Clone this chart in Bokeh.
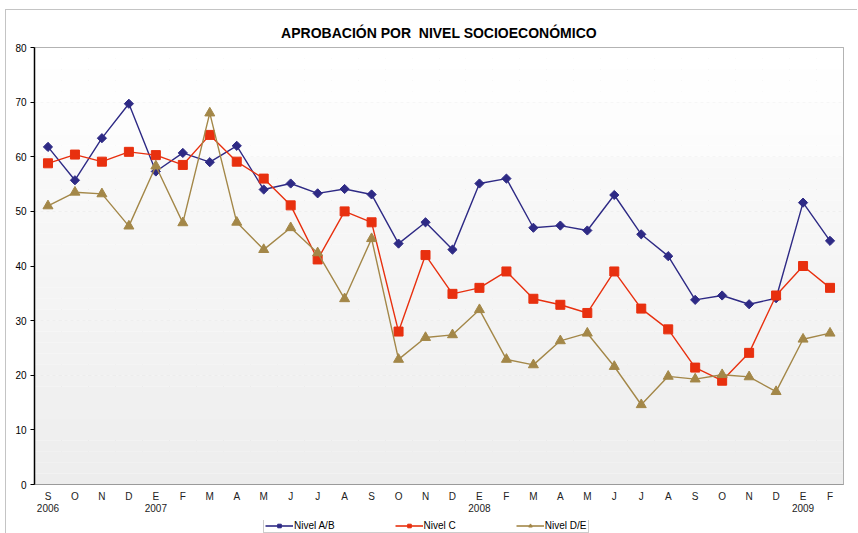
import math
from bokeh.plotting import figure
from bokeh.layouts import column
from bokeh.models import Range1d, FixedTicker, BoxAnnotation, Legend, LegendItem
from bokeh.embed import file_html
from bokeh.resources import INLINE

months = ["S", "O", "N", "D", "E", "F", "M", "A", "M", "J", "J", "A", "S", "O", "N",
          "D", "E", "F", "M", "A", "M", "J", "J", "A", "S", "O", "N", "D", "E", "F"]
years = {0: "2006", 4: "2007", 16: "2008", 28: "2009"}

nivel_ab = [61.8, 55.7, 63.4, 69.7, 57.3, 60.7, 59.0, 62.0, 54.0, 55.1, 53.3, 54.1, 53.1, 44.1, 48.0,
            43.0, 55.1, 56.0, 47.0, 47.4, 46.5, 53.0, 45.8, 41.8, 33.8, 34.6, 33.0, 34.1, 51.6, 44.6]
nivel_c = [58.8, 60.4, 59.1, 60.9, 60.3, 58.5, 64.0, 59.1, 56.0, 51.1, 41.2, 50.0, 48.0, 28.0, 42.0,
           34.9, 36.0, 39.0, 34.0, 32.9, 31.4, 39.0, 32.2, 28.4, 21.4, 19.0, 24.1, 34.6, 40.0, 36.0]
nivel_de = [51.0, 53.5, 53.2, 47.3, 58.3, 47.9, 68.0, 48.0, 43.0, 47.0, 42.4, 34.0, 45.0, 22.9, 26.9,
            27.4, 32.0, 22.9, 21.9, 26.3, 27.7, 21.6, 14.6, 19.8, 19.3, 20.1, 19.7, 17.0, 26.6, 27.7]

# name, values, colour, marker, size, angle
series = [
    ("Nivel A/B", nivel_ab, "#2e2a85", "square", 6.5, math.pi / 4),
    ("Nivel C", nivel_c, "#e8300f", "square", 9, 0.0),
    ("Nivel D/E", nivel_de, "#a38748", "triangle", 10, 0.0),
]

FONT = "Liberation Sans"
n = len(months)
xs = list(range(n))

p = figure(width=851, height=510, output_backend="svg", toolbar_location=None,
           x_range=Range1d(-0.5, n - 0.5), y_range=Range1d(0, 80),
           min_border_left=28, min_border_right=14, min_border_top=37, min_border_bottom=36,
           title="APROBACIÓN POR \u00a0NIVEL SOCIOECONÓMICO")

p.title.align = "center"
p.title.text_font = FONT
p.title.text_font_size = "14px"
p.title.text_font_style = "bold"
p.title.text_color = "#000000"
p.title.standoff = 13

p.background_fill_color = "#ffffff"
p.border_fill_color = "#ffffff"
p.outline_line_color = "#9a9a9a"
p.outline_line_width = 1

# subtle vertical gradient background
steps = 40
for i in range(steps):
    lo = 80 * i / steps
    hi = 80 * (i + 1) / steps
    mid = (lo + hi) / 2
    if mid > 60:
        g = int(round(255 - (80 - mid) / 20 * 3))
    else:
        g = int(round(237 + mid / 60 * 12))
    p.add_layout(BoxAnnotation(bottom=lo, top=hi, fill_color=(g, g, g), fill_alpha=1.0,
                               line_alpha=0, level="underlay"))

# axes
p.yaxis.ticker = FixedTicker(ticks=list(range(0, 81, 10)))
p.yaxis.axis_line_color = "#000000"
p.yaxis.axis_line_width = 1.5
p.yaxis.major_tick_line_color = "#000000"
p.yaxis.major_tick_out = 4
p.yaxis.major_tick_in = 0
p.yaxis.minor_tick_line_color = None
p.yaxis.major_label_text_font = FONT
p.yaxis.major_label_text_font_size = "10px"
p.yaxis.major_label_text_color = "#000000"
p.yaxis.major_label_standoff = 4

p.xaxis.ticker = FixedTicker(ticks=xs)
labels = {}
for i, m in enumerate(months):
    labels[i] = m + ("\n" + years[i] if i in years else "")
p.xaxis.major_label_overrides = labels
p.xaxis.axis_line_color = "#9a9a9a"
p.xaxis.major_tick_line_color = None
p.xaxis.major_tick_out = 0
p.xaxis.major_tick_in = 0
p.xaxis.minor_tick_line_color = None
p.xaxis.minor_tick_out = 0
p.xaxis.major_label_text_font = FONT
p.xaxis.major_label_text_font_size = "10px"
p.xaxis.major_label_text_color = "#222222"
p.xaxis.major_label_text_line_height = 1.1
p.xaxis.major_label_standoff = 6

# grids
p.ygrid.ticker = FixedTicker(ticks=list(range(10, 80, 10)))
p.ygrid.grid_line_color = "#d6d6d6"
p.ygrid.grid_line_dash = "3 3"
p.xgrid.ticker = FixedTicker(ticks=[i + 0.5 for i in range(n - 1)])
p.xgrid.grid_line_color = "#d6d6d6"
p.xgrid.grid_line_dash = "3 3"

for name, vals, color, marker, size, ang in series:
    p.line(xs, vals, line_color=color, line_width=1.4)
    p.scatter(xs, vals, marker=marker, size=size, angle=ang,
              fill_color=color, line_color=color)

# legend strip (separate small figure under the chart); its series lie outside its view
lg = figure(width=851, height=13, output_backend="svg", toolbar_location=None,
            x_axis_location=None, y_axis_location=None,
            x_range=Range1d(1000, 1001), y_range=Range1d(0, 1),
            min_border_left=0, min_border_right=0, min_border_top=0, min_border_bottom=0)
lg.xgrid.visible = False
lg.ygrid.visible = False
lg.outline_line_color = None
lg.background_fill_color = "#ffffff"
lg.border_fill_color = "#ffffff"

items = []
for name, vals, color, marker, size, ang in series:
    r1 = lg.line(xs, vals, line_color=color, line_width=1.6)
    r2 = lg.scatter(xs, vals, marker=marker, size=size * 0.85, angle=ang,
                    fill_color=color, line_color=color)
    items.append(LegendItem(label=name, renderers=[r1, r2]))

legend = Legend(items=items, orientation="horizontal", location=(229, 0))
legend.label_text_font = FONT
legend.label_text_font_size = "10px"
legend.label_text_color = "#000000"
legend.glyph_width = 28
legend.glyph_height = 9
legend.label_height = 9
legend.label_standoff = 1
legend.spacing = 60
legend.padding = 1
legend.margin = 0
legend.border_line_color = "#9a9a9a"
legend.background_fill_color = "#ffffff"
legend.background_fill_alpha = 1.0
lg.add_layout(legend, "center")

layout = column(p, lg, spacing=0)
layout.styles = {"margin-left": "5px", "margin-top": "9px",
                 "border-left": "1px solid #c4c4c4", "border-top": "1px solid #c4c4c4"}

open("out.html", "w").write(file_html(layout, INLINE))
